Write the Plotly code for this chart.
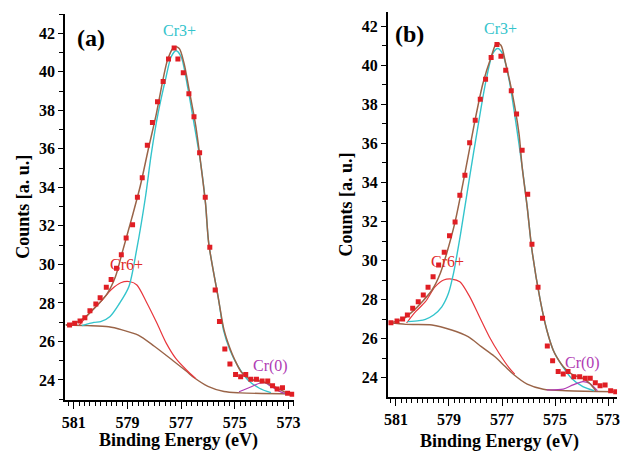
import plotly.graph_objects as go

# ---------------- Panel (a) ----------------
a_data_E = [581.16, 580.97, 580.77, 580.59, 580.40, 580.18, 580.02, 579.79, 579.61, 579.41,
            579.23, 579.05, 578.81, 578.63, 578.45, 578.26, 578.07, 577.88, 577.67, 577.47,
            577.26, 577.12, 576.92, 576.71, 576.52, 576.31, 576.10, 575.93, 575.73, 575.57,
            575.37, 575.18, 574.97, 574.78, 574.59, 574.40, 574.19, 573.98, 573.77, 573.59,
            573.42, 573.22, 573.03, 572.86]
a_data_I = [26.85, 26.94, 27.06, 27.23, 27.60, 27.94, 28.27, 28.81, 29.22, 29.80,
            30.50, 31.37, 32.06, 33.48, 34.50, 36.18, 37.37, 38.44, 39.50, 40.66,
            41.24, 40.66, 39.95, 38.86, 37.66, 35.80, 33.48, 30.89, 28.67, 27.03,
            25.61, 24.83, 24.28, 24.17, 24.28, 24.04, 24.04, 23.95, 23.95, 23.70,
            23.53, 23.60, 23.31, 23.26]

a_env_E = [581.30, 580.85, 580.49, 580.12, 579.75, 579.45, 579.20, 578.84, 578.53, 578.23,
           577.92, 577.68, 577.49, 577.25, 577.07, 576.89, 576.70, 576.45, 576.27, 576.09,
           575.97, 575.60, 575.40, 575.18, 575.00, 574.75, 574.43, 574.07, 573.77, 573.40,
           573.04, 572.80]
a_env_I = [26.85, 27.02, 27.37, 27.89, 28.50, 29.36, 30.60, 32.40, 34.03, 35.94,
           37.84, 39.57, 40.69, 41.30, 41.21, 40.43, 39.05, 37.15, 35.25, 33.17,
           31.09, 28.15, 26.60, 25.65, 25.05, 24.40, 24.04, 23.95, 23.83, 23.57,
           23.31, 23.26]

a_bg_E = [581.30, 580.50, 579.70, 579.20, 578.60, 578.00, 577.30, 576.80, 576.50, 576.00,
          575.40, 574.80, 572.80]
a_bg_I = [26.85, 26.82, 26.76, 26.60, 26.33, 25.75, 25.00, 24.45, 24.10, 23.67,
          23.40, 23.33, 23.27]

a_cr6_E = [580.80, 580.40, 580.00, 579.60, 579.25, 578.90, 578.65, 578.30, 577.90, 577.55,
           577.20, 576.80, 576.45]
a_cr6_I = [26.85, 27.50, 28.06, 28.70, 29.05, 29.10, 28.93, 28.06, 26.94, 25.90,
           25.12, 24.52, 24.07]

a_cr3_E = [580.70, 580.25, 580.00, 579.65, 579.30, 578.95, 578.66, 578.33, 578.11, 577.86,
           577.56, 577.37, 577.19, 577.00, 576.76, 576.52, 576.27, 576.09, 575.97, 575.60,
           575.42, 575.18, 574.87, 574.51, 574.08, 573.65]
a_cr3_I = [26.82, 26.99, 27.03, 27.30, 27.97, 28.84, 30.75, 33.50, 35.76, 37.84,
           39.74, 40.78, 41.09, 40.78, 39.23, 37.32, 35.25, 33.17, 31.09, 28.15,
           26.59, 25.56, 24.69, 24.00, 23.57, 23.34]

a_cr0_E = [574.84, 574.43, 574.08, 573.89, 573.59, 573.22, 572.98]
a_cr0_I = [23.39, 23.62, 23.83, 23.86, 23.62, 23.34, 23.27]

# ---------------- Panel (b) ----------------
b_data_E = [581.19, 580.96, 580.75, 580.57, 580.37, 580.16, 579.97, 579.79, 579.60, 579.39,
            579.18, 578.98, 578.77, 578.59, 578.40, 578.22, 578.01, 577.82, 577.62, 577.41,
            577.19, 577.04, 576.86, 576.65, 576.45, 576.24, 576.03, 575.87, 575.64, 575.47,
            575.29, 575.09, 574.88, 574.69, 574.51, 574.29, 574.07, 573.86, 573.67, 573.48,
            573.30, 573.11, 572.90, 572.71]
b_data_I = [26.81, 26.90, 27.00, 27.21, 27.55, 27.89, 28.23, 28.63, 29.17, 29.77,
            30.42, 31.27, 31.98, 33.35, 34.37, 36.03, 37.19, 38.26, 39.29, 40.40,
            41.06, 40.46, 39.75, 38.69, 37.50, 35.65, 33.39, 30.83, 28.63, 27.04,
            25.62, 24.87, 24.31, 24.19, 24.31, 24.05, 24.05, 23.97, 23.97, 23.74,
            23.58, 23.63, 23.33, 23.28]

b_env_E = [581.24, 580.75, 580.38, 580.01, 579.64, 579.33, 579.08, 578.77, 578.40, 578.03,
           577.72, 577.41, 577.20, 577.04, 576.86, 576.61, 576.36, 576.24, 576.05, 575.87,
           575.56, 575.31, 575.07, 574.94, 574.63, 574.32, 573.95, 573.70, 573.46]
b_env_I = [26.81, 26.99, 27.38, 27.89, 28.49, 29.34, 30.40, 31.98, 34.46, 37.10,
           39.07, 40.43, 41.14, 41.03, 40.09, 38.55, 36.51, 34.80, 32.75, 30.54,
           27.98, 26.44, 25.42, 25.07, 24.48, 24.14, 23.97, 23.71, 23.33]

b_bg_E = [581.24, 580.63, 579.64, 578.90, 578.28, 577.78, 577.29, 576.90, 576.55,
          576.05, 575.44, 574.57, 572.71]
b_bg_I = [26.81, 26.73, 26.70, 26.44, 26.10, 25.59, 25.10, 24.60, 24.15,
          23.67, 23.41, 23.33, 23.28]

b_cr6_E = [580.60, 580.26, 579.89, 579.52, 579.20, 578.90, 578.59, 578.22, 577.85, 577.48,
           577.11, 576.73, 576.52]
b_cr6_I = [26.80, 27.38, 27.89, 28.66, 29.00, 29.05, 28.91, 28.15, 27.12, 26.10,
           25.25, 24.50, 24.18]

b_cr3_E = [580.57, 580.13, 579.89, 579.58, 579.27, 579.02, 578.83, 578.56, 578.22, 577.91,
           577.60, 577.35, 577.16, 576.98, 576.73, 576.49, 576.24, 576.05, 575.87, 575.56,
           575.31, 575.07, 574.75, 574.38, 573.95, 573.52]
b_cr3_I = [26.87, 26.92, 26.99, 27.21, 27.63, 28.32, 29.34, 31.39, 34.29, 36.85,
           39.24, 40.60, 40.86, 40.60, 39.24, 37.19, 34.80, 32.75, 30.54, 27.98,
           26.44, 25.42, 24.65, 23.97, 23.54, 23.33]

b_cr0_E = [575.31, 574.69, 574.32, 573.95, 573.70, 573.40]
b_cr0_I = [23.37, 23.41, 23.63, 23.80, 23.71, 23.33]

x_tick_vals = [581, 579, 577, 575, 573]
y_tick_vals = [24, 26, 28, 30, 32, 34, 36, 38, 40, 42]

BROWN = "#9a6448"
RED_LINE = "#e8363c"
CYAN = "#33c4cc"
MAGENTA = "#b03cb4"
MARK = "#e01e24"
SERIF = "Times New Roman, Liberation Serif, serif"

fig = go.Figure()

panels = [
    dict(xa="x", ya="y", data=(a_data_E, a_data_I), env=(a_env_E, a_env_I), bg=(a_bg_E, a_bg_I),
         cr6=(a_cr6_E, a_cr6_I), cr3=(a_cr3_E, a_cr3_I), cr0=(a_cr0_E, a_cr0_I)),
    dict(xa="x2", ya="y2", data=(b_data_E, b_data_I), env=(b_env_E, b_env_I), bg=(b_bg_E, b_bg_I),
         cr6=(b_cr6_E, b_cr6_I), cr3=(b_cr3_E, b_cr3_I), cr0=(b_cr0_E, b_cr0_I)),
]

for p in panels:
    def line(xy, color, w=1.2):
        fig.add_trace(go.Scatter(x=xy[0], y=xy[1], mode="lines", xaxis=p["xa"], yaxis=p["ya"],
                                 line=dict(color=color, width=w, shape="spline", smoothing=0.8),
                                 showlegend=False, hoverinfo="skip"))
    line(p["bg"], BROWN, 1.4)
    line(p["cr6"], RED_LINE, 1.2)
    line(p["cr3"], CYAN, 1.4)
    line(p["cr0"], MAGENTA, 1.2)
    line(p["env"], BROWN, 1.5)
    fig.add_trace(go.Scatter(x=p["data"][0], y=p["data"][1], mode="markers", xaxis=p["xa"], yaxis=p["ya"],
                             marker=dict(symbol="square", size=5, color=MARK, line=dict(width=0)),
                             showlegend=False))

H = 454.0
W = 625.0

def xaxis_cfg(dom, rng):
    return dict(domain=dom, range=rng, tickvals=x_tick_vals, ticks="outside", ticklen=7, tickwidth=1.3,
                tickcolor="black", showline=True, linecolor="black", linewidth=1.5, showgrid=False,
                zeroline=False, minor=dict(dtick=0.2, tick0=573, ticks="outside", ticklen=4, tickwidth=1, tickcolor="black"),
                tickfont=dict(family=SERIF, size=16, color="black", weight="bold"), mirror=False)

def yaxis_cfg(dom, rng, anchor):
    return dict(domain=dom, range=rng, tickvals=y_tick_vals, ticks="outside", ticklen=5, tickwidth=1.3,
                tickcolor="black", showline=True, linecolor="black", linewidth=1.5, showgrid=False,
                zeroline=False, anchor=anchor,
                minor=dict(dtick=1, tick0=23, ticks="outside", ticklen=4, tickwidth=1, tickcolor="black"),
                tickfont=dict(family=SERIF, size=16, color="black", weight="bold"))

fig.update_layout(
    width=625, height=454, margin=dict(l=0, r=0, t=0, b=0),
    paper_bgcolor="white", plot_bgcolor="white",
    xaxis=xaxis_cfg([62 / W, 295 / W], [581.33, 572.78]) | dict(anchor="y"),
    yaxis=yaxis_cfg([(H - 400) / H, (H - 14) / H], [22.96, 43.0], "x"),
    xaxis2=xaxis_cfg([390 / W, 623 / W], [581.31, 572.66]) | dict(anchor="y2"),
    yaxis2=yaxis_cfg([(H - 397) / H, (H - 12) / H], [23.01, 42.73], "x2"),
)

def ann(text, x, y, size, color, bold=True, angle=0, family=SERIF):
    fig.add_annotation(text=text, x=x / W, y=1 - y / H, xref="paper", yref="paper", showarrow=False,
                       xanchor="center", yanchor="middle", textangle=angle,
                       font=dict(family=family, size=size, color=color, weight="bold" if bold else "normal"))

# axis titles
ann("Counts [a. u.]", 19, 207, 18, "black", angle=-90)
ann("Counts [a. u.]", 348, 204, 18, "black", angle=-90)
ann("Binding Energy (eV)", 177, 440, 18, "black")
ann("Binding Energy (eV)", 504, 441, 18, "black")

# panel labels
ann("(a)", 88, 38, 24, "black")
ann("(b)", 412, 34, 24, "black")

# peak labels
ann("Cr3+", 178, 31, 16, CYAN, bold=False)
ann("Cr6+", 124, 264, 16, "#e02a2a", bold=False)
ann("Cr(0)", 271, 366, 16, MAGENTA, bold=False)
ann("Cr3+", 505, 28, 16, CYAN, bold=False)
ann("Cr6+", 451, 261, 16, "#e02a2a", bold=False)
ann("Cr(0)", 588, 363, 16, MAGENTA, bold=False)

fig.write_html("out.html")
